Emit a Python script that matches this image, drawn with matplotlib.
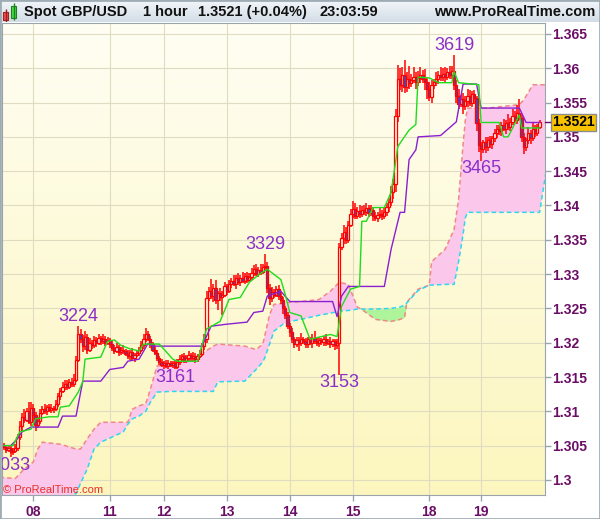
import numpy as np
import matplotlib.pyplot as plt
from matplotlib.colors import LinearSegmentedColormap
from matplotlib.patches import Rectangle

plt.rcParams['font.family'] = ['Liberation Sans', 'DejaVu Sans']

W, H = 600, 519

# 価格は 1.3 からの pips (1 pip = 0.0001)
base = 1.3
first_open = 50

closes = [48, 44, 46, 40, 42, 47, 62, 78, 92, 88, 100, 84, 105, 95, 80, 86, 98, 104, 100, 106,
          102, 105, 103, 110, 122, 130, 135, 140, 136, 143, 140, 146, 175, 212, 205, 195, 208, 190, 200, 196,
          204, 199, 207, 202, 206, 200, 204, 198, 192, 188, 194, 186, 190, 188, 184, 180, 186, 178, 182, 185,
          190, 196, 205, 212, 206, 198, 190, 185, 178, 172, 168, 170, 166, 171, 167, 170, 165, 172, 176, 180,
          174, 178, 182, 177, 181, 176, 180, 184, 195, 205, 265, 275, 268, 280, 262, 272, 266, 270, 282, 276,
          285, 290, 285, 295, 288, 294, 290, 297, 292, 296, 302, 308, 300, 306, 303, 310, 312, 280, 265, 274,
          270, 278, 268, 262, 250, 240, 225, 215, 205, 198, 204, 200, 206, 202, 198, 205, 200, 207, 203, 199,
          204, 201, 206, 200, 203, 198, 202, 196, 200, 340, 352, 362, 350, 372, 388, 395, 385, 392, 388, 394,
          390, 396, 389, 393, 385, 382, 386, 388, 384, 390, 398, 405, 420, 432, 530, 585, 575, 590, 572, 585,
          578, 583, 588, 580, 586, 590, 584, 580, 570, 558, 575, 580, 585, 590, 587, 592, 588, 594, 590, 596,
          575, 560, 548, 555, 545, 552, 560, 550, 562, 556, 520, 488, 482, 492, 485, 495, 490, 498, 505, 512,
          508, 518, 512, 520, 515, 522, 530, 525, 535, 528, 500, 485, 495, 505, 498, 512, 506, 515, 521]

wick_up = [4, 3, 5, 3, 4, 6, 5, 8, 6, 12, 5, 14, 8, 6, 4, 5, 6, 4, 7, 3,
           4, 5, 3, 6, 5, 4, 7, 5, 6, 4, 5, 8, 6, 12, 8, 6, 9, 5, 7, 4,
           6, 4, 5, 3, 7, 4, 5, 3, 6, 4, 5, 3, 4, 6, 3, 5, 4, 6, 3, 5,
           4, 6, 8, 10, 5, 4, 3, 5, 4, 3, 4, 3, 5, 4, 3, 4, 5, 4, 6, 3,
           5, 4, 6, 3, 5, 4, 3, 6, 5, 8, 10, 6, 18, 5, 12, 4, 8, 5, 6, 4,
           6, 5, 8, 4, 6, 5, 9, 4, 6, 5, 7, 5, 6, 4, 8, 5, 17, 6, 5, 7,
           5, 4, 6, 5, 4, 3, 5, 4, 6, 3, 5, 4, 8, 3, 5, 4, 3, 6, 10, 4,
           5, 3, 4, 6, 3, 5, 4, 3, 5, 6, 8, 10, 6, 5, 7, 12, 8, 6, 9, 5,
           6, 8, 4, 7, 5, 6, 4, 8, 5, 6, 5, 6, 8, 6, 10, 20, 15, 12, 22, 10,
           18, 8, 14, 6, 10, 12, 8, 15, 6, 10, 8, 5, 9, 6, 12, 8, 10, 6, 9, 8,
           23, 8, 10, 6, 9, 7, 10, 8, 5, 6, 4, 6, 5, 4, 8, 5, 6, 4, 7, 5,
           6, 4, 8, 5, 14, 6, 10, 8, 12, 20, 5, 6, 4, 10, 5, 8, 6, 4, 3]

wick_dn = [4, 5, 3, 7, 4, 3, 5, 4, 6, 5, 4, 3, 5, 10, 8, 4, 5, 3, 4, 5,
           3, 4, 5, 3, 4, 5, 3, 4, 5, 3, 4, 5, 4, 3, 6, 8, 5, 7, 4, 5,
           4, 5, 3, 6, 4, 5, 3, 6, 4, 5, 3, 6, 4, 5, 3, 4, 5, 4, 6, 3,
           4, 3, 5, 4, 3, 5, 4, 3, 5, 4, 3, 6, 3, 4, 3, 4, 4, 3, 5, 3,
           4, 3, 5, 4, 3, 5, 4, 3, 4, 5, 6, 4, 5, 8, 6, 15, 5, 25, 4, 6,
           4, 5, 3, 6, 4, 5, 3, 4, 5, 3, 4, 5, 3, 4, 5, 3, 4, 8, 10, 6,
           5, 4, 6, 5, 8, 6, 5, 7, 6, 5, 4, 12, 5, 4, 6, 5, 4, 8, 5, 4,
           5, 4, 6, 5, 4, 5, 4, 6, 5, 47, 5, 8, 6, 5, 4, 6, 5, 4, 6, 5,
           4, 5, 6, 4, 8, 5, 6, 4, 5, 4, 5, 8, 6, 10, 12, 8, 6, 10, 8, 6,
           8, 6, 5, 10, 6, 8, 5, 12, 15, 6, 8, 5, 6, 8, 5, 6, 8, 5, 6, 5,
           6, 10, 8, 5, 12, 6, 8, 5, 6, 8, 12, 10, 17, 6, 8, 5, 6, 8, 5, 6,
           5, 6, 4, 8, 5, 6, 4, 5, 6, 4, 8, 10, 6, 5, 8, 4, 6, 5, 4]

# 転換線 (バー位置, pips)
tenkan_x = [0, 4, 7, 12, 14, 20, 24, 25, 29, 33, 35, 36, 43, 46, 49, 52, 56, 60, 62, 69,
            75, 77, 86, 90, 96, 100, 105, 109, 114, 117, 123, 125, 127, 132, 136, 145, 148, 150, 154, 158,
            159, 161, 164, 169, 172, 175, 180, 183, 184, 189, 193, 199, 200, 202, 211, 212, 220, 222, 224, 229,
            230, 238]
tenkan_v = [50, 50, 70, 74, 89, 92, 92, 106, 108, 128, 143, 176, 179, 202, 204, 196, 191, 188, 198, 198,
            176, 173, 173, 220, 231, 263, 266, 288, 301, 307, 292, 270, 244, 239, 205, 212, 209, 253, 278, 282,
            377, 377, 397, 397, 419, 486, 510, 518, 587, 586, 579, 579, 595, 579, 576, 521, 521, 500, 500, 532,
            513, 513]

# 基準線
kijun_x = [0, 3, 6, 8, 12, 24, 26, 32, 35, 43, 47, 53, 55, 60, 64, 66, 88, 92, 99, 108,
           111, 115, 117, 123, 127, 146, 148, 150, 153, 169, 172, 176, 178, 180, 183, 184, 194, 201, 204, 210,
           212, 229, 232, 238]
kijun_v = [50, 50, 60, 70, 77, 77, 93, 93, 144, 144, 161, 164, 173, 176, 199, 195, 195, 224, 227, 230,
           244, 246, 268, 275, 260, 260, 238, 268, 282, 282, 336, 390, 390, 467, 481, 500, 502, 522, 577, 577,
           542, 542, 521, 521]

# 先行スパンA / B (雲)
cloud_x = [-2, 5, 9, 13, 15, 17, 25, 32, 34, 37, 40, 43, 53, 55, 57, 60, 63, 65, 68, 74,
           86, 93, 95, 107, 112, 115, 116, 118, 120, 124, 127, 132, 140, 145, 149, 153, 157, 160, 165, 172,
           176, 178, 179, 184, 189, 190, 196, 200, 202, 204, 205, 206, 215, 229, 231, 235, 238, 241]
span_a = [4, 2, 16, 26, 45, 55, 52, 45, 45, 60, 74, 84, 84, 84, 103, 108, 111, 132, 166, 169,
          180, 195, 198, 195, 190, 198, 212, 241, 256, 257, 259, 260, 263, 275, 288, 285, 252, 246, 234, 231,
          234, 237, 259, 278, 284, 318, 336, 365, 409, 489, 525, 542, 542, 547, 554, 576, 576, 576]
span_b = [-30, -30, -30, -30, -30, -30, -30, -20, -5, 16, 45, 55, 70, 81, 89, 93, 100, 113, 128, 129,
          129, 129, 143, 144, 161, 172, 179, 198, 217, 227, 231, 234, 240, 243, 246, 247, 249, 249, 249, 250,
          252, 255, 258, 276, 284, 284, 285, 285, 318, 358, 382, 390, 390, 390, 390, 390, 390, 452]

day_pos = [13, 47, 71, 99, 127, 155, 189, 212]
day_labels = ['08', '11', '12', '13', '14', '15', '18', '19']
price_ticks = [1.3, 1.305, 1.31, 1.315, 1.32, 1.325, 1.33, 1.335, 1.34, 1.345, 1.35, 1.355, 1.36, 1.365]

ext_bars = [3, 33, 76, 116, 149, 200, 212]
ext_kind = ['lo', 'hi', 'lo', 'hi', 'lo', 'hi', 'lo']

last_price = 1.3521


def px(v):
    return base + np.asarray(v, dtype=float) / 10000


c = np.array(closes, dtype=float)
o = np.r_[first_open, c[:-1]]
hi = np.maximum(o, c) + np.array(wick_up)
lo = np.minimum(o, c) - np.array(wick_dn)
x = np.arange(len(c))

fig = plt.figure(figsize=(W / 100, H / 100), dpi=100)
fig.patch.set_facecolor('white')
ax = fig.add_axes([2 / W, 24 / H, 543 / W, 472 / H])

### 背景グラデーション
bg = LinearSegmentedColormap.from_list('bg', ['#fcf6be', '#fffef3'])
ax.imshow(np.linspace(0, 1, 100).reshape(-1, 1), cmap=bg, extent=(0, 1, 0, 1),
          transform=ax.transAxes, aspect='auto', origin='lower', zorder=0)

### 雲
ca, cb = px(span_a), px(span_b)
ax.fill_between(cloud_x, ca, cb, where=ca >= cb, interpolate=True, color='#fbc8ec', lw=0, zorder=1)
ax.fill_between(cloud_x, ca, cb, where=ca < cb, interpolate=True, color='#aef49a', lw=0, zorder=1)
ax.plot(cloud_x, ca, color='#f08888', lw=1.1, ls=(0, (3, 2)), zorder=2)
ax.plot(cloud_x, cb, color='#2fd6ee', lw=1.1, ls=(0, (3, 2)), zorder=2)

### ローソク足
ax.vlines(x, px(lo), px(hi), color='#ff0000', lw=1.1, zorder=3)
up = c >= o
ax.bar(x[up], (c - o)[up] / 10000, bottom=px(o[up]), width=1.0,
       facecolor='#fffbe0', edgecolor='#ff0000', lw=0.9, zorder=3.5)
ax.bar(x[~up], (o - c)[~up] / 10000, bottom=px(c[~up]), width=1.0,
       facecolor='#5b3fa8', edgecolor='#ff0000', lw=0.9, zorder=3.5)

### 転換線・基準線
ax.plot(kijun_x, px(kijun_v), color='#8a1fd0', lw=1, zorder=4)
ax.plot(tenkan_x, px(tenkan_v), color='#1edc1e', lw=1, zorder=4.5)

### 高値・安値ラベル
for b, k in zip(ext_bars, ext_kind):
    v = hi[b] if k == 'hi' else lo[b]
    txt = f'{int(round(13000 + v)) % 10000:04d}'
    ax.annotate(txt, (b, px(v)), xytext=(0, 1 if k == 'hi' else 0.5), textcoords='offset points',
                ha='center', va='bottom' if k == 'hi' else 'top', color='#8a2fc8',
                fontsize=13, clip_on=True, zorder=6)

ax.text(1 / 543, 2 / 472, '© ProRealTime.com', transform=ax.transAxes, color='#e8302a',
        fontsize=8, va='baseline', ha='left', zorder=6)

### 軸
ax.set_xlim(-0.9, 240.4)
ax.set_ylim(1.29780, 1.36660)
ax.yaxis.tick_right()
ax.set_yticks(price_ticks, [f'{t:g}' for t in price_ticks], fontweight='bold')
ax.set_xticks(day_pos, day_labels, fontweight='bold')
ax.tick_params(axis='both', length=4, width=1, color='#9aa4ac', labelcolor='#6b0f66', labelsize=10)
ax.tick_params(axis='y', pad=1)
ax.tick_params(axis='x', pad=3)
ax.grid(True, color='#e0dcc2', lw=0.8)
ax.set_axisbelow(True)
for s in ax.spines.values():
    s.set_color('#9aa4ac')

# 現在値タグ
ax.annotate(f'{last_price:.4f}', xy=(1, last_price), xycoords=('axes fraction', 'data'),
            xytext=(28.5, 0), textcoords='offset pixels', ha='center', va='center',
            fontsize=10, fontweight='bold', color='black', annotation_clip=False, zorder=7,
            bbox=dict(boxstyle='square,pad=0.12', fc='#f7c300', ec='#8c8c8c', lw=1))
ax.plot([1, 1.01], [last_price, last_price], transform=ax.get_yaxis_transform(),
        color='#6b0f66', lw=1, clip_on=False, zorder=7)

### ヘッダー
hax = fig.add_axes([0, 1 - 22 / H, 1, 22 / H])
hdr = LinearSegmentedColormap.from_list('hdr', ['#f2f6fa', '#d3dde7'])
hax.imshow(np.linspace(0, 1, 50).reshape(-1, 1), cmap=hdr, extent=(0, W, 22, 0),
           aspect='auto', origin='upper')
hax.set_xlim(0, W)
hax.set_ylim(22, 0)
hax.set_axis_off()
hax.vlines(5.5, 9, 22, color='#a02020', lw=1)
hax.add_patch(Rectangle((3, 12), 5, 8, fc='#ee5050', ec='#a02020', lw=0.8))
hax.vlines(13.5, 3, 20, color='#208020', lw=1)
hax.add_patch(Rectangle((11, 6), 5, 12, fc='#44dd44', ec='#208020', lw=0.8))

for txt, xp in zip(['Spot GBP/USD', '1 hour', '1.3521 (+0.04%)', '23:03:59'], [24, 143, 198, 320]):
    fig.text(xp / W, 1 - 12 / H, txt, fontsize=10.5, fontweight='bold', color='#111111',
             va='center', ha='left')
fig.text(595 / W, 1 - 12 / H, 'www.ProRealTime.com', fontsize=10.5, fontweight='bold',
         color='#111111', va='center', ha='right')

fig.patches.append(Rectangle((0, 0), 1, 1, transform=fig.transFigure, fill=False,
                             ec='#a0acb4', lw=2))

fig.savefig('out.png', dpi=100)
